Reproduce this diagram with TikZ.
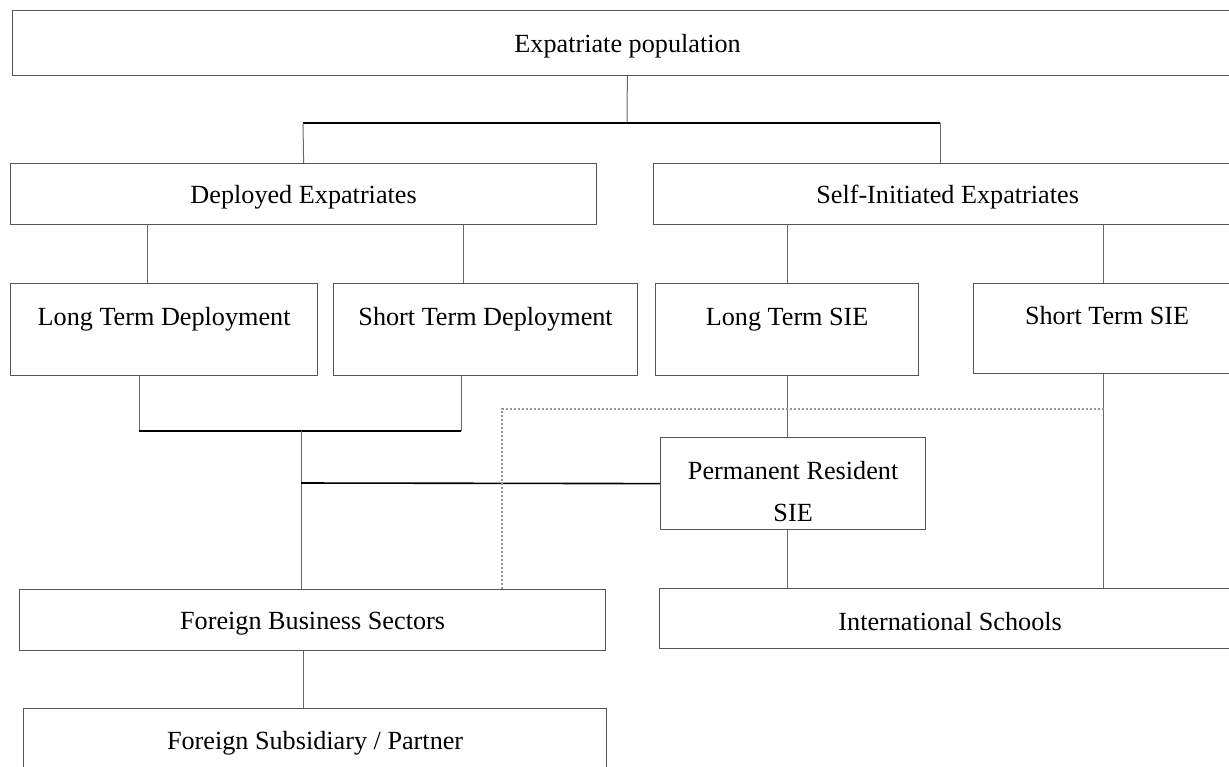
\documentclass[tikz,border=0pt]{standalone}
\usepackage{fontspec}
\setmainfont{Liberation Serif}
\usetikzlibrary{positioning}
\definecolor{BoxLine}{RGB}{85,85,85}
\definecolor{LinkGray}{RGB}{105,105,105}
\definecolor{HintGray}{RGB}{150,150,150}

\begin{document}
\begin{tikzpicture}[x=0.5pt, y=-0.5pt,
        box/.style={draw=BoxLine, line width=0.6pt, inner sep=0pt, anchor=north west,
            font=\fontsize{13.1}{15.7}\selectfont, align=center, text height=12pt},
        tallbox/.style={box, minimum height=46pt, text height=9pt, text depth=13.5pt},
        boxtext/.style={font=\fontsize{13.1}{15.7}\selectfont, align=center, inner sep=0pt},
        link/.style={draw=LinkGray, line width=0.5pt},
        bar/.style={draw=black, line width=0.8pt},
        hint/.style={draw=HintGray, line width=0.6pt, dash pattern=on 1pt off 1pt}]
    \useasboundingbox (0,0) rectangle (1229,766);

    % top level
    \node[box, minimum width=615pt, minimum height=32.5pt] (pop) at (12,10) {Expatriate population};
    \node[box, minimum width=293pt, minimum height=30.5pt] (dep) at (10,163) {Deployed Expatriates};
    \node[box, minimum width=294pt, minimum height=30.5pt] (sie) at (653,163) {Self-Initiated Expatriates};

    % deployment types
    \node[tallbox, minimum width=153.5pt] (ltd) at (10,283) {Long Term Deployment};
    \node[tallbox, minimum width=152pt] (std) at (333,283) {Short Term Deployment};
    \node[tallbox, minimum width=131.5pt] (ltsie) at (655,283) {Long Term SIE};
    \node[tallbox, minimum width=133.5pt, minimum height=45pt] (stsie) at (973,283) {Short Term SIE};

    % lower level
    \node[box, minimum width=132.5pt, minimum height=46pt] (prsie) at (660,437) {};
    \node[boxtext] (prsietext) at ([yshift=-4pt]prsie.center) {Permanent Resident\\[5pt]SIE};
    \node[box, minimum width=293pt, minimum height=30.5pt] (fbs) at (19,589) {Foreign Business Sectors};
    \node[box, minimum width=290.5pt, minimum height=30pt] (isch) at (659,588) {International Schools};
    \node[box, minimum width=291.5pt, minimum height=32pt] (fsp) at (23,708) {Foreign Subsidiary / Partner};

    % joints
    \coordinate (split) at (627,123);
    \coordinate (depdrop) at (303,123);
    \coordinate (siedrop) at (940,123);
    \coordinate (ltdx) at (147,0);
    \coordinate (stdx) at (463,0);
    \coordinate (stsiex) at (1103,0);
    \coordinate (mergeL) at (139,431);
    \coordinate (mergeR) at (461,431);
    \coordinate (mergeM) at (301,431);
    \coordinate (tee) at (301,483);
    \coordinate (hintR) at (1104,409);
    \coordinate (hintL) at (502,409);

    \draw[link] (pop) -- (split);
    \draw[bar] (depdrop) -- (siedrop);
    \draw[link] (depdrop) -- (dep.north);
    \draw[link] (siedrop) -- (sie.north -| siedrop);

    \draw[link] (dep.south -| ltdx) -- (ltd.north -| ltdx);
    \draw[link] (dep.south -| stdx) -- (std.north -| stdx);
    \draw[link] (sie.south -| ltsie.north) -- (ltsie.north);
    \draw[link] (sie.south -| stsiex) -- (stsie.north -| stsiex);

    \draw[link] (ltd.south -| mergeL) -- (mergeL);
    \draw[link] (std.south -| mergeR) -- (mergeR);
    \draw[bar] (mergeL) -- (mergeR);
    \draw[link] (mergeM) -- (fbs.north -| mergeM);
    \draw[bar] (tee) -- (prsie.west);

    \draw[link] (ltsie.south) -- (ltsie.south |- prsie.north);
    \draw[link] (prsie.south -| ltsie.south) -- (isch.north -| ltsie.south);
    \draw[link] (stsie.south -| stsiex) -- (isch.north -| stsiex);
    \draw[link] (fbs.south -| depdrop) -- (fsp.north -| depdrop);

    \draw[hint] (hintR) -- (hintL) -- (fbs.north -| hintL);
\end{tikzpicture}
\end{document}
